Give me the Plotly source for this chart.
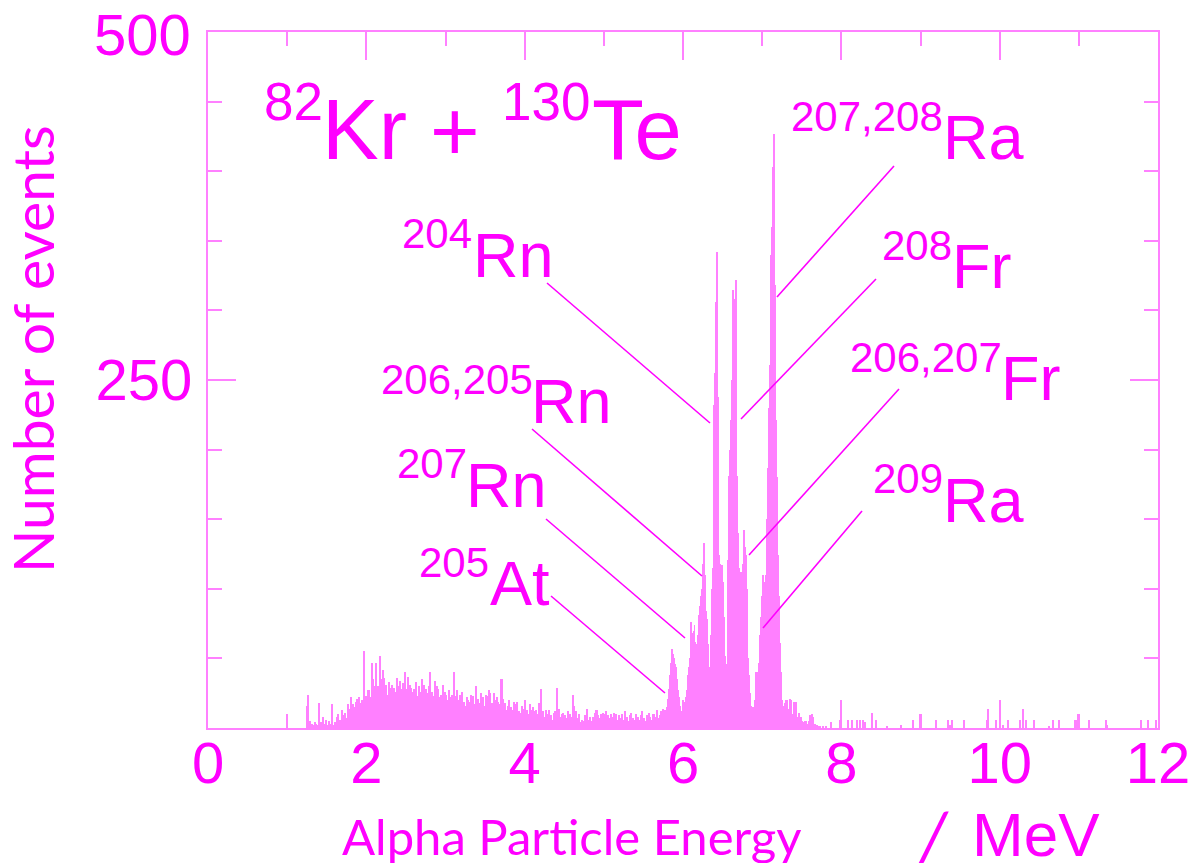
import plotly.graph_objects as go

# ---------------- data ----------------
# low-energy continuum, 0.02 MeV bins starting at 1.20 MeV
lo_start = 1.20
lo_width = 0.02
counts_lo = [
    0, 0, 16, 24, 5,   3, 2, 4, 3, 2,   18, 4, 8, 3, 6,   2, 5, 3, 17, 2,
    4, 8, 10, 6, 13,   9, 11, 7, 17, 14,   22, 17, 15, 19, 21,   22, 18, 20, 55, 23,
    23, 27, 22, 47, 35,   30, 47, 30, 52, 35,   42, 36, 31, 24, 33,   29, 31, 29, 26, 36,
    30, 34, 28, 32, 40,   28, 37, 31, 29, 26,   28, 33, 23, 30, 26,   35, 31, 28, 25, 30,
    40, 26, 23, 34, 30,   28, 22, 24, 31, 26,   24, 20, 27, 22, 24,   40, 23, 27, 20, 24,
    26, 19, 16, 22, 20,   19, 24, 23, 17, 30,   21, 18, 25, 22, 16,   24, 23, 27, 25, 18,
    25, 20, 22, 19, 17,   35, 21, 18, 13, 16,   20, 15, 13, 19, 17,   19, 12, 11, 16, 14,
    20, 13, 10, 17, 13,   15, 12, 13, 10, 18,   28, 12, 8, 13, 10,   13, 9, 6, 11, 12,
    29, 14, 8, 10, 11,   9, 7, 12, 10, 8,   24, 16, 12, 7, 10,   4, 6, 5, 9, 14,
    6, 8, 5, 8, 11,   13, 9, 7, 10, 11,   8, 12, 9, 7, 10,   8, 11, 10, 6, 9,
    7, 10, 6, 12, 8,   5, 9, 11, 7, 6,   10, 8, 6, 9, 12,   7, 5, 9, 11, 8,
    6, 10, 8, 13, 7,   9, 12, 14,
]

# peak region, 0.01 MeV bins starting at 5.76 MeV
pk_start = 5.76
pk_width = 0.01
counts_pk = [
    12, 13, 10, 15, 18, 21, 28, 38, 47, 52,
    57, 53, 50, 46, 44, 44, 35, 27, 22, 18,
    16, 12, 11, 10, 14, 17, 19, 22, 25, 27,
    38, 44, 50, 62, 76, 68, 61, 70, 74, 62,
    53, 60, 67, 74, 81, 88, 95, 100, 104, 118,
    133, 110, 96, 84, 78, 60, 44, 44, 44, 67,
    100, 115, 121, 232, 255, 306, 342, 306, 238, 124,
    118, 115, 117, 117, 105, 80, 55, 52, 46, 46,
    121, 150, 181, 200, 221, 250, 280, 315, 308, 300,
    322, 252, 181, 140, 115, 110, 107, 112, 110, 118,
    130, 142, 130, 124, 100, 67, 50, 38, 25, 16,
    14, 12, 15, 15, 20, 30, 40, 35, 40, 47,
    55, 67, 80, 95, 100, 110, 105, 101, 110, 124,
    150, 187, 230, 261, 312, 340, 360, 403, 427, 380,
    318, 221, 180, 152, 124, 95, 61, 40, 24, 20,
    16, 12, 18, 10,
]

# high-energy tail, 0.02 MeV bins starting at 7.30 MeV
tail_start = 7.30
tail_width = 0.02
counts_tail = [
    20, 14, 21, 20, 10, 19, 19, 8, 11, 8,
    5, 4, 5, 3, 5, 9, 10, 8, 3, 2,
    1, 1, 0, 1, 0, 1, 0, 0, 4, 0,
]

# isolated events (energy in MeV, counts)
event_energy = [1.00, 7.98, 8.00, 8.09, 8.14, 8.20, 8.24, 8.28, 8.30, 8.39, 8.44,
                8.58, 8.76, 8.91, 8.99, 9.20, 9.35, 9.37, 9.40, 9.55, 9.84, 9.86,
                9.96, 10.00, 10.04, 10.11, 10.26, 10.30, 10.33, 10.44, 10.63, 10.67,
                10.75, 10.95, 10.97, 10.99, 11.13, 11.34, 11.36, 11.79, 11.88, 11.97]
event_counts = [10, 6, 20, 6, 6, 6, 6, 6, 4, 11, 6,
                1, 2, 6, 10, 6, 6, 2, 6, 6, 6, 14,
                6, 20, 2, 6, 6, 14, 6, 6, 1, 6,
                6, 6, 6, 10, 6, 6, 2, 6, 6, 6]

x_tick_vals = [0, 2, 4, 6, 8, 10, 12]
y_tick_vals = [250, 500]
y_tick_text = ["250", "500"]

# ---------------- style ----------------
W, H = 1195, 863
L, R, T, B = 208, 1158, 32, 728
BAR = "#ff80ff"
AX = "#ff80ff"
TXT = "#ff00ff"
ARIAL = "Liberation Sans, Arial, sans-serif"
CAL = "Lato, Carlito, Calibri, sans-serif"


def pxp(x):
    return (x - L) / (R - L)


def pyp(y):
    return (B - y) / (B - T)


def centers(start, width, n):
    return [start + width * (i + 0.5) for i in range(n)]


fig = go.Figure()
for start, width, counts in [(lo_start, lo_width, counts_lo),
                             (pk_start, pk_width, counts_pk),
                             (tail_start, tail_width, counts_tail)]:
    fig.add_trace(go.Bar(x=centers(start, width, len(counts)), y=counts, width=width,
                         marker=dict(color=BAR, line=dict(width=0)),
                         showlegend=False, hoverinfo="x+y"))
fig.add_trace(go.Bar(x=event_energy, y=event_counts, width=0.015,
                     marker=dict(color=BAR, line=dict(width=0)),
                     showlegend=False, hoverinfo="x+y"))

# text pieces: (text, left px, vertical centre px, size)
texts = [
    ("82", 263, 101.5, 53), ("Kr", 321, 130, 85), ("+", 429, 131, 85),
    ("130", 501, 101.5, 53), ("Te", 591, 130, 85),
    ("207,208", 790, 116.5, 42), ("Ra", 942, 136.5, 63),
    ("208", 881, 245.5, 42), ("Fr", 951, 265.5, 63),
    ("206,207", 849, 358, 42), ("Fr", 1000, 378.5, 63),
    ("209", 872, 479, 42), ("Ra", 942, 500, 63),
    ("204", 401, 233.5, 42), ("Rn", 472, 255.5, 63),
    ("206,205", 380, 379, 42), ("Rn", 530, 400.5, 63),
    ("207", 396, 463.5, 42), ("Rn", 465, 485, 63),
    ("205", 418, 562, 42), ("At", 489, 582.5, 63),
]
annotations = []
for t, x, y, s in texts:
    annotations.append(dict(text=t, x=pxp(x), y=pyp(y), xref="paper", yref="paper",
                            xanchor="left", yanchor="middle", showarrow=False,
                            borderpad=0, font=dict(family=ARIAL, size=s, color=TXT)))

# top y tick label (placed as text so it is not dropped at the frame edge)
annotations.append(dict(text=y_tick_text[-1], x=pxp(192), y=pyp(34), xref="paper", yref="paper",
                        xanchor="right", yanchor="middle", showarrow=False, borderpad=0,
                        font=dict(family=ARIAL, size=58, color=TXT)))

annotations += [
    dict(text="Number of events", x=pxp(32), y=pyp(349), xref="paper", yref="paper",
         textangle=-90, xanchor="center", yanchor="middle", showarrow=False, borderpad=0,
         font=dict(family=CAL, size=57, color=TXT)),
    dict(text="Alpha Particle Energy", x=pxp(572), y=pyp(836), xref="paper", yref="paper",
         xanchor="center", yanchor="middle", showarrow=False, borderpad=0,
         font=dict(family=CAL, size=49, color=TXT)),
    dict(text="/", x=pxp(933), y=pyp(834), xref="paper", yref="paper",
         xanchor="center", yanchor="middle", showarrow=False, borderpad=0,
         font=dict(family=CAL, size=68, color=TXT, style="italic")),
    dict(text="MeV", x=pxp(971), y=pyp(834), xref="paper", yref="paper",
         xanchor="left", yanchor="middle", showarrow=False, borderpad=0,
         font=dict(family=ARIAL, size=62, color=TXT)),
]

leaders = [
    ((894, 166), (777, 297)),
    ((876, 279), (741, 419)),
    ((899, 389), (749, 555)),
    ((862, 511), (763, 628)),
    ((547, 283), (710, 423)),
    ((532, 429), (702, 576)),
    ((546, 519), (685, 638)),
    ((551, 596), (665, 693)),
]
shapes = []
for (x0, y0), (x1, y1) in leaders:
    shapes.append(dict(type="line", xref="paper", yref="paper",
                       x0=pxp(x0), y0=pyp(y0), x1=pxp(x1), y1=pyp(y1),
                       line=dict(color=TXT, width=1.6)))

axis_common = dict(
    showline=True, linecolor=AX, linewidth=2, mirror="allticks",
    ticks="inside", ticklen=28, tickwidth=2, tickcolor=AX,
    showgrid=False, zeroline=False, automargin=False,
    tickfont=dict(family=ARIAL, size=58, color=TXT),
)

fig.update_layout(
    template="none",
    width=W, height=H,
    margin=dict(l=L, r=W - R, t=T, b=H - B, pad=0, autoexpand=False),
    paper_bgcolor="white", plot_bgcolor="white",
    barmode="overlay", bargap=0,
    showlegend=False,
    xaxis=dict(range=[0, 12], tickmode="array", tickvals=x_tick_vals,
               ticklabelstandoff=-17,
               minor=dict(dtick=1, tick0=0, ticks="inside", ticklen=14,
                          tickwidth=2, tickcolor=AX),
               **axis_common),
    yaxis=dict(range=[0, 500], tickmode="array", tickvals=y_tick_vals,
               ticktext=[y_tick_text[0], ""], ticklabelstandoff=2,
               minor=dict(dtick=50, tick0=0, ticks="inside", ticklen=14,
                          tickwidth=2, tickcolor=AX),
               **axis_common),
    annotations=annotations,
    shapes=shapes,
)

fig.write_html("out.html")
